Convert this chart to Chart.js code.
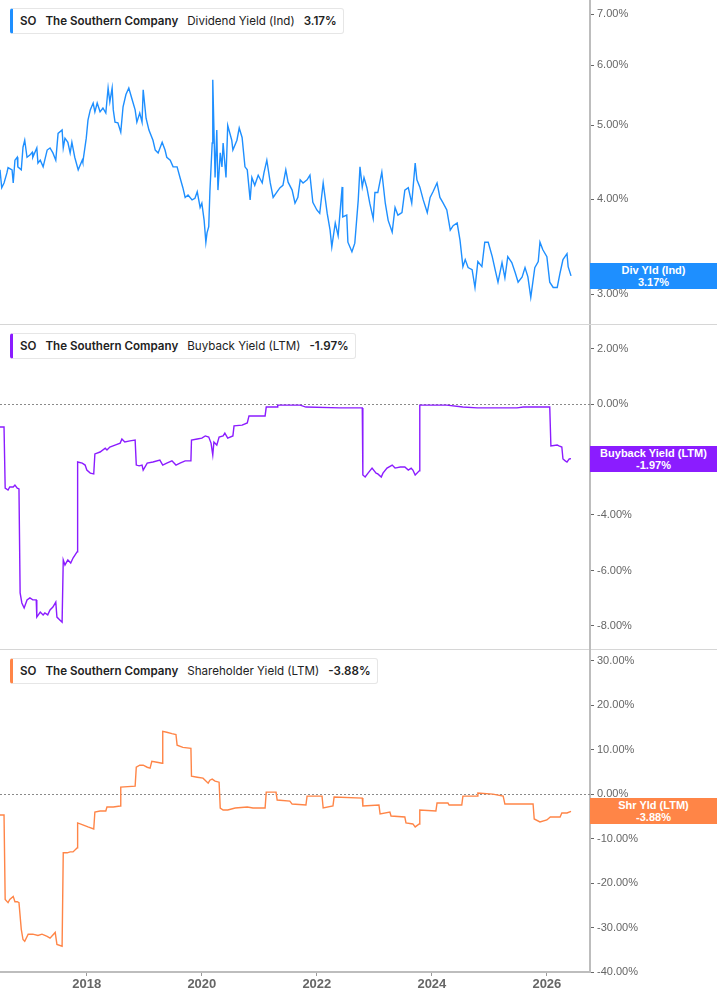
<!DOCTYPE html>
<html><head><meta charset="utf-8">
<script src="https://cdn.jsdelivr.net/npm/chart.js@4"></script>
<style>
body{margin:0;background:#fff;width:717px;height:1005px;overflow:hidden;position:relative;font-family:Inter,"Noto Sans",sans-serif;}
canvas{position:absolute;left:0;}
.sep{position:absolute;left:0;width:717px;height:1px;background:#d6d6d6;}
.legend{position:absolute;left:10px;height:24px;display:flex;align-items:center;gap:9px;padding:0 6px 0 7px;border:1px solid #e6e6e6;border-left:3px solid;border-radius:3px;background:#fff;font-size:11.6px;color:#222;white-space:nowrap;}
.legend b{font-weight:600}
.tag{position:absolute;left:590px;width:127px;height:26px;color:#fff;font:bold 11px "Liberation Sans",Arial,sans-serif;text-align:center;line-height:12px;display:flex;flex-direction:column;justify-content:center;}
</style></head><body>
<canvas id="c1" width="717" height="324" style="top:0"></canvas>
<div class="sep" style="top:324px"></div>
<canvas id="c2" width="717" height="324" style="top:325px"></canvas>
<div class="sep" style="top:649px"></div>
<canvas id="c3" width="717" height="356" style="top:649px"></canvas>

<div class="legend" style="top:8px;border-left-color:#1e8fff"><b>SO</b><b>The Southern Company</b><span>Dividend Yield (Ind)</span><b>3.17%</b></div>
<div class="legend" style="top:333px;border-left-color:#8b1cff"><b>SO</b><b>The Southern Company</b><span>Buyback Yield (LTM)</span><b>-1.97%</b></div>
<div class="legend" style="top:658px;border-left-color:#ff8547"><b>SO</b><b>The Southern Company</b><span>Shareholder Yield (LTM)</span><b>-3.88%</b></div>

<div class="tag" id="t1" style="background:#1e8fff"><div>Div Yld (Ind)</div><div>3.17%</div></div>
<div class="tag" id="t2" style="background:#8b1cff"><div>Buyback Yield (LTM)</div><div>-1.97%</div></div>
<div class="tag" id="t3" style="background:#ff8547"><div>Shr Yld (LTM)</div><div>-3.88%</div></div>

<script>
const X_MIN = 2016.49, X_MAX = 2026.75;
const xTicks = [2018, 2020, 2022, 2024, 2026];
const divTicks = [3, 4, 5, 6, 7];
const buyTicks = [-8, -6, -4, -2, 0, 2];
const shrTicks = [-40, -30, -20, -10, 0, 10, 20, 30];

const divYield = [[2016.49,4.37],[2016.52,4.14],[2016.56,4.20],[2016.61,4.33],[2016.63,4.40],[2016.70,4.37],[2016.72,4.20],[2016.75,4.50],[2016.79,4.54],[2016.80,4.41],[2016.86,4.37],[2016.89,4.68],[2016.92,4.78],[2016.96,4.54],[2017.01,4.57],[2017.05,4.61],[2017.06,4.54],[2017.13,4.67],[2017.15,4.46],[2017.19,4.50],[2017.24,4.41],[2017.31,4.64],[2017.36,4.67],[2017.41,4.60],[2017.46,4.50],[2017.50,4.88],[2017.57,4.93],[2017.59,4.67],[2017.62,4.81],[2017.67,4.75],[2017.71,4.60],[2017.74,4.75],[2017.79,4.54],[2017.85,4.37],[2017.92,4.50],[2017.93,4.47],[2017.99,4.81],[2018.02,5.08],[2018.06,5.24],[2018.11,5.35],[2018.14,5.21],[2018.18,5.35],[2018.23,5.21],[2018.28,5.27],[2018.33,5.19],[2018.37,5.60],[2018.40,5.37],[2018.44,5.60],[2018.46,5.24],[2018.49,5.05],[2018.54,5.04],[2018.59,4.90],[2018.63,5.29],[2018.68,5.49],[2018.73,5.60],[2018.79,5.40],[2018.84,5.24],[2018.87,5.05],[2018.92,5.19],[2018.96,5.05],[2018.98,5.57],[2019.03,5.11],[2019.08,4.93],[2019.15,4.78],[2019.19,4.64],[2019.24,4.60],[2019.31,4.75],[2019.36,4.64],[2019.39,4.54],[2019.45,4.50],[2019.50,4.41],[2019.57,4.41],[2019.62,4.27],[2019.67,4.14],[2019.71,4.02],[2019.76,4.05],[2019.83,3.99],[2019.88,4.01],[2019.92,4.09],[2019.97,3.90],[2020.00,3.95],[2020.04,3.75],[2020.07,3.51],[2020.09,3.61],[2020.12,3.68],[2020.14,4.09],[2020.18,4.74],[2020.19,5.74],[2020.23,4.27],[2020.26,4.93],[2020.28,4.11],[2020.32,4.60],[2020.35,4.41],[2020.37,4.74],[2020.42,4.27],[2020.45,5.00],[2020.52,4.78],[2020.54,4.64],[2020.61,4.78],[2020.65,4.96],[2020.70,4.82],[2020.75,4.41],[2020.79,4.37],[2020.84,3.99],[2020.87,4.27],[2020.92,4.17],[2020.98,4.30],[2021.05,4.20],[2021.08,4.33],[2021.13,4.50],[2021.19,4.20],[2021.24,4.02],[2021.31,4.09],[2021.36,4.14],[2021.41,4.17],[2021.46,4.37],[2021.50,4.21],[2021.57,4.11],[2021.62,3.95],[2021.67,4.02],[2021.71,4.24],[2021.76,4.20],[2021.83,4.24],[2021.88,4.30],[2021.93,3.96],[2022.00,3.87],[2022.05,3.83],[2022.11,4.20],[2022.18,3.83],[2022.23,3.64],[2022.26,3.46],[2022.32,3.72],[2022.37,3.58],[2022.44,4.15],[2022.45,3.79],[2022.52,3.81],[2022.54,3.51],[2022.61,3.41],[2022.66,3.50],[2022.72,3.99],[2022.75,4.41],[2022.79,4.15],[2022.82,4.27],[2022.87,4.14],[2022.92,3.95],[2022.98,3.77],[2023.01,4.08],[2023.06,4.08],[2023.13,4.34],[2023.19,3.95],[2023.24,3.75],[2023.31,3.62],[2023.36,3.90],[2023.41,3.81],[2023.48,3.84],[2023.53,4.11],[2023.59,4.14],[2023.65,3.95],[2023.71,4.46],[2023.74,4.24],[2023.79,4.15],[2023.85,3.99],[2023.92,3.84],[2023.97,4.02],[2024.02,4.09],[2024.09,4.20],[2024.14,4.02],[2024.19,3.96],[2024.26,3.87],[2024.32,3.64],[2024.37,3.69],[2024.44,3.72],[2024.49,3.53],[2024.54,3.26],[2024.58,3.33],[2024.63,3.25],[2024.70,3.23],[2024.75,3.06],[2024.80,3.31],[2024.87,3.26],[2024.92,3.51],[2024.98,3.51],[2025.05,3.36],[2025.10,3.23],[2025.15,3.11],[2025.22,3.30],[2025.27,3.15],[2025.32,3.36],[2025.39,3.30],[2025.45,3.20],[2025.50,3.11],[2025.57,3.16],[2025.62,3.25],[2025.67,3.16],[2025.72,2.97],[2025.79,3.25],[2025.85,3.31],[2025.88,3.51],[2025.93,3.43],[2026.00,3.36],[2026.05,3.11],[2026.11,3.06],[2026.18,3.06],[2026.23,3.20],[2026.28,3.33],[2026.35,3.39],[2026.37,3.26],[2026.42,3.17]];

const buybackYield = [[2016.49,-0.83],[2016.56,-0.83],[2016.58,-3.03],[2016.63,-3.10],[2016.66,-2.99],[2016.72,-2.99],[2016.75,-2.92],[2016.79,-3.03],[2016.82,-3.06],[2016.84,-6.81],[2016.87,-7.17],[2016.91,-7.35],[2016.96,-7.06],[2017.01,-6.99],[2017.06,-7.06],[2017.12,-7.06],[2017.13,-7.68],[2017.19,-7.50],[2017.24,-7.60],[2017.27,-7.53],[2017.32,-7.60],[2017.36,-7.42],[2017.41,-7.32],[2017.46,-7.14],[2017.48,-7.68],[2017.53,-7.78],[2017.57,-7.86],[2017.59,-5.62],[2017.62,-5.80],[2017.67,-5.62],[2017.72,-5.73],[2017.76,-5.55],[2017.83,-5.33],[2017.84,-2.09],[2017.92,-2.13],[2017.97,-2.20],[2018.00,-2.38],[2018.06,-2.49],[2018.12,-2.52],[2018.14,-1.80],[2018.23,-1.73],[2018.32,-1.59],[2018.35,-1.66],[2018.40,-1.55],[2018.49,-1.48],[2018.58,-1.41],[2018.61,-1.26],[2018.66,-1.37],[2018.75,-1.33],[2018.84,-1.30],[2018.86,-2.20],[2018.91,-2.23],[2018.96,-2.20],[2018.98,-2.38],[2019.05,-2.13],[2019.15,-2.09],[2019.27,-2.02],[2019.32,-2.20],[2019.39,-2.13],[2019.48,-2.05],[2019.55,-2.20],[2019.62,-2.13],[2019.71,-2.05],[2019.81,-2.05],[2019.82,-1.30],[2019.92,-1.26],[2020.00,-1.23],[2020.06,-1.15],[2020.12,-1.19],[2020.16,-1.41],[2020.19,-1.84],[2020.21,-1.37],[2020.26,-1.48],[2020.30,-1.19],[2020.37,-1.15],[2020.40,-1.05],[2020.45,-1.23],[2020.54,-1.15],[2020.56,-0.79],[2020.70,-0.76],[2020.79,-0.68],[2020.82,-0.43],[2021.10,-0.43],[2021.12,-0.11],[2021.31,-0.11],[2021.32,-0.04],[2021.71,-0.04],[2021.81,-0.11],[2022.40,-0.14],[2022.79,-0.14],[2022.80,-2.56],[2022.84,-2.63],[2022.89,-2.49],[2022.96,-2.31],[2023.03,-2.49],[2023.06,-2.52],[2023.12,-2.63],[2023.15,-2.49],[2023.22,-2.31],[2023.31,-2.20],[2023.36,-2.31],[2023.45,-2.27],[2023.53,-2.27],[2023.59,-2.38],[2023.64,-2.31],[2023.67,-2.38],[2023.71,-2.56],[2023.78,-2.41],[2023.79,-0.04],[2024.26,-0.04],[2024.54,-0.11],[2024.79,-0.14],[2025.48,-0.14],[2025.59,-0.11],[2026.05,-0.11],[2026.07,-1.51],[2026.18,-1.48],[2026.21,-1.51],[2026.26,-1.55],[2026.28,-1.98],[2026.32,-2.05],[2026.35,-2.09],[2026.39,-1.98],[2026.42,-1.97]];

const shareholderYield = [[2016.49,-4.70],[2016.56,-4.70],[2016.58,-23.7],[2016.63,-24.4],[2016.66,-23.7],[2016.72,-23.0],[2016.75,-24.2],[2016.79,-24.2],[2016.82,-24.4],[2016.86,-30.4],[2016.89,-32.7],[2016.92,-33.1],[2016.98,-31.5],[2017.06,-31.5],[2017.15,-31.8],[2017.22,-31.5],[2017.31,-32.0],[2017.36,-32.4],[2017.45,-31.1],[2017.48,-33.8],[2017.57,-34.2],[2017.59,-13.2],[2017.66,-13.2],[2017.71,-13.0],[2017.76,-13.0],[2017.83,-12.1],[2017.84,-6.49],[2017.93,-6.94],[2018.02,-7.38],[2018.12,-7.83],[2018.14,-4.03],[2018.23,-3.80],[2018.33,-3.80],[2018.35,-2.91],[2018.46,-2.91],[2018.58,-2.68],[2018.59,1.57],[2018.84,1.79],[2018.86,6.04],[2018.92,6.49],[2018.98,6.49],[2019.05,6.04],[2019.10,5.82],[2019.13,7.38],[2019.22,7.16],[2019.31,6.94],[2019.32,14.1],[2019.39,13.9],[2019.48,13.6],[2019.55,13.4],[2019.57,11.0],[2019.67,10.5],[2019.81,10.3],[2019.82,4.03],[2019.92,3.80],[2020.02,3.58],[2020.11,2.46],[2020.14,3.13],[2020.18,3.36],[2020.23,2.91],[2020.30,2.68],[2020.32,-3.13],[2020.37,-3.58],[2020.45,-3.58],[2020.58,-3.13],[2020.79,-2.91],[2020.89,-3.13],[2021.10,-3.13],[2021.12,0.45],[2021.29,0.45],[2021.31,-1.34],[2021.53,-1.57],[2021.57,-2.24],[2021.81,-2.46],[2021.83,-0.45],[2022.09,-0.45],[2022.11,-3.13],[2022.28,-2.68],[2022.30,-0.67],[2022.79,-0.89],[2022.80,-2.68],[2023.08,-2.46],[2023.10,-4.47],[2023.27,-4.03],[2023.29,-4.92],[2023.53,-5.15],[2023.55,-6.49],[2023.67,-6.71],[2023.71,-7.38],[2023.78,-6.71],[2023.79,-3.58],[2024.07,-3.80],[2024.09,-2.01],[2024.28,-2.01],[2024.30,-2.46],[2024.52,-2.46],[2024.54,-0.45],[2024.79,-0.45],[2024.80,0.22],[2025.06,0.0],[2025.24,-0.45],[2025.27,-2.24],[2025.76,-2.24],[2025.78,-5.59],[2025.88,-6.26],[2026.00,-5.82],[2026.06,-5.15],[2026.23,-5.15],[2026.26,-4.25],[2026.35,-4.25],[2026.42,-3.88]];

const AXIS_FONT = '"Liberation Sans", Arial, sans-serif';

const zeroLine = {
  id: 'zeroLine',
  beforeDatasetsDraw(chart, args, opts) {
    if (!opts.on) return;
    const y = Math.round(chart.scales.y.getPixelForValue(0)) + 0.5;
    const ctx = chart.ctx;
    ctx.save();
    ctx.setLineDash([2, 2]);
    ctx.strokeStyle = '#8a8a8a';
    ctx.lineWidth = 1;
    ctx.beginPath();
    ctx.moveTo(chart.chartArea.left, y);
    ctx.lineTo(chart.chartArea.right, y);
    ctx.stroke();
    ctx.restore();
  }
};

function noPad(s) { s.paddingTop = 0; s.paddingBottom = 0; s.paddingLeft = 0; s.paddingRight = 0; }

function makeChart(id, pts, color, yType, yMin, yMax, yTicks, showX, padTop, padBottom, zero) {
  const xAxis = showX ? {
    type: 'linear', bounds: 'data', min: X_MIN, max: X_MAX,
    afterFit(s) { s.height = 33; noPad(s); },
    afterBuildTicks(s) { s.ticks = xTicks.map(v => ({ value: v })); },
    ticks: { callback: v => String(v), color: '#666', font: { family: AXIS_FONT, size: 13, weight: 'bold' }, padding: 1, maxRotation: 0, autoSkip: false },
    grid: { drawOnChartArea: false, drawTicks: true, tickLength: 4, color: '#9a9a9a' },
    border: { display: true, color: '#bdbdbd', width: 2 }
  } : { type: 'linear', bounds: 'data', min: X_MIN, max: X_MAX, display: false };
  return new Chart(document.getElementById(id), {
    type: 'line',
    data: { datasets: [{ data: pts.map(p => ({ x: p[0], y: p[1] })), borderColor: color, borderWidth: 1.4, pointRadius: 0, tension: 0, fill: false }] },
    options: {
      responsive: false, animation: false, devicePixelRatio: 1,
      layout: { padding: { left: 0, right: 0, top: padTop, bottom: padBottom } },
      plugins: { legend: { display: false }, tooltip: { enabled: false }, zeroLine: { on: zero } },
      scales: {
        x: xAxis,
        y: {
          type: yType, position: 'right', bounds: 'data', min: yMin, max: yMax,
          afterFit(s) { s.width = 127; noPad(s); },
          afterBuildTicks(s) { s.ticks = yTicks.map(v => ({ value: v })); s.min = yMin; s.max = yMax; },
          ticks: { callback: v => Number(v).toFixed(2) + '%', color: '#666', font: { family: AXIS_FONT, size: 11 }, padding: 3, autoSkip: false },
          grid: { drawOnChartArea: false, drawTicks: true, tickLength: 4, color: '#666' },
          border: { display: true, color: '#bdbdbd', width: 2 }
        }
      }
    },
    plugins: [zeroLine]
  });
}

const ch1 = makeChart('c1', divYield, '#1e8fff', 'logarithmic', 2.748, 7.31, divTicks, false, 0, 1, false);
const ch2 = makeChart('c2', buybackYield, '#8b1cff', 'linear', -8.793, 2.847, buyTicks, false, 0, 1, true);
const ch3 = makeChart('c3', shareholderYield, '#ff8547', 'linear', -40, 32.4, shrTicks, true, 1, 0, true);

function placeTag(tagId, chart, top, pts) {
  const last = pts[pts.length - 1][1];
  const y = chart.scales.y.getPixelForValue(last);
  document.getElementById(tagId).style.top = (top + y - 13) + 'px';
}
placeTag('t1', ch1, 0, divYield);
placeTag('t2', ch2, 325, buybackYield);
placeTag('t3', ch3, 649, shareholderYield);
</script>
</body></html>
